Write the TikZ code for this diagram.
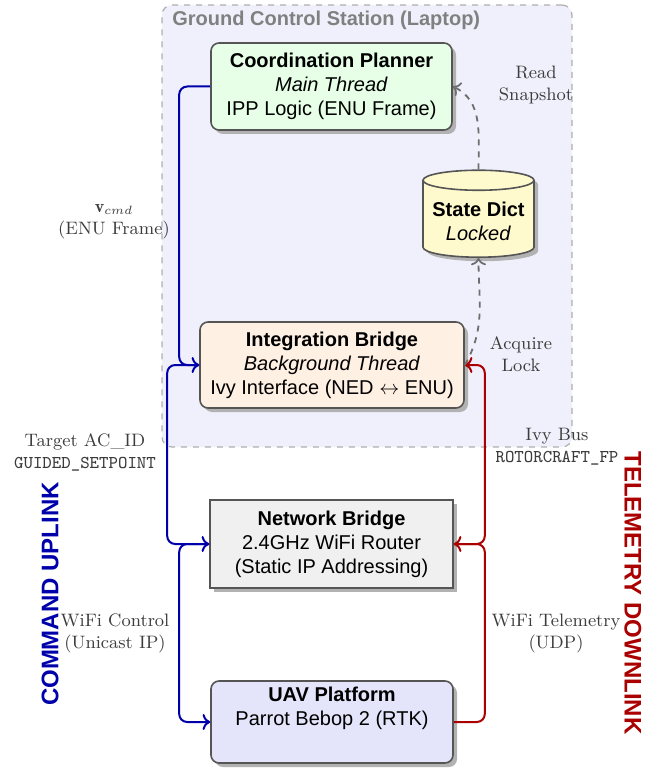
\documentclass[tikz,border=0pt]{standalone}
\usepackage{fontspec}
\setsansfont{Liberation Sans}
\usetikzlibrary{shapes.geometric,shadows,arrows.meta}
\definecolor{gcsfill}{RGB}{240,240,252}
\definecolor{gcsborder}{RGB}{175,175,175}
\definecolor{titlegray}{RGB}{128,128,128}
\definecolor{cpfill}{RGB}{230,255,230}
\definecolor{sdfill}{RGB}{255,250,205}
\definecolor{ibfill}{RGB}{255,240,228}
\definecolor{nbfill}{RGB}{240,240,240}
\definecolor{uavfill}{RGB}{228,228,250}
\definecolor{bordergray}{RGB}{85,85,85}
\definecolor{upblue}{RGB}{0,0,170}
\definecolor{downred}{RGB}{170,0,0}
\definecolor{labelgray}{RGB}{60,60,60}
\definecolor{dashgray}{RGB}{110,110,110}
\begin{document}
\begin{tikzpicture}[x=0.5pt,y=-0.5pt,
  shad/.style={drop shadow={shadow xshift=2pt,shadow yshift=-2pt,fill=black!30,opacity=1}},
  box/.style={draw=bordergray, line width=0.8pt, rounded corners=4pt, align=center,
    font=\sffamily, inner sep=2pt, shad},
  lbl/.style={font=\small, text=labelgray, align=center},
  upline/.style={draw=upblue, line width=1pt, ->, rounded corners=4pt},
  downline/.style={draw=downred, line width=1pt, ->, rounded corners=4pt},
  dashline/.style={draw=dashgray, dashed, line width=0.9pt, ->}]
\useasboundingbox (0,0) rectangle (657,770);

% Ground control station background
\node[draw=gcsborder, dashed, fill=gcsfill, rounded corners=5pt, line width=0.6pt,
  inner sep=0pt, minimum width=205pt, minimum height=221pt] (gcs) at (367,226) {};
\node[anchor=west, font=\sffamily\bfseries, text=titlegray, inner sep=0pt] (title) at (172,20)
  {Ground Control Station (Laptop)};

% Nodes
\node[box, fill=cpfill, minimum width=120.5pt, minimum height=43.5pt] (cp) at (331.5,86.5)
  {\textbf{Coordination Planner}\\\textit{Main Thread}\\IPP Logic (ENU Frame)};
\node[cylinder, shape border rotate=90, aspect=0.2, draw=bordergray, line width=0.8pt,
  fill=sdfill, minimum width=55.5pt, minimum height=43.5pt, font=\sffamily, align=center,
  inner sep=2pt, shad] (sd) at (478.5,221)
  {\textbf{State Dict}\\\textit{Locked}};
\node[box, fill=ibfill, minimum width=132pt, minimum height=43pt] (ib) at (332,365)
  {\textbf{Integration Bridge}\\\textit{Background Thread}\\Ivy Interface (NED $\leftrightarrow$ ENU)};
\node[box, sharp corners, fill=nbfill, minimum width=121.5pt, minimum height=44pt] (nb) at (331.5,544)
  {\textbf{Network Bridge}\\2.4GHz WiFi Router\\(Static IP Addressing)};
\node[box, fill=uavfill, minimum width=121pt, minimum height=41pt] (uav) at (332,722)
  {\textbf{UAV Platform}\\Parrot Bebop 2 (RTK)\\\strut};

% Command uplink (blue)
\draw[upline] (cp.west) -- ++(-31,0) |- (ib.west);
\draw[upline] (ib.west) -- ++(-32,0) |- (nb.west);
\draw[upline] (nb.west) -- ++(-30,0) |- (uav.west);

% Telemetry downlink (red)
\draw[downline] (uav.east) -- ++(31,0) |- (nb.east);
\draw[downline] (nb.east) -- ++(31,0) |- (ib.east);

% State dict access (dashed)
\draw[dashline] (ib.east) to[out=60,in=-90] (sd.south);
\draw[dashline] (sd.north) to[out=90,in=-25] (cp.east);

% Labels
\node[lbl] (lv) at (114,222) {$\mathbf{v}_{cmd}$\\(ENU Frame)};
\node[lbl] (lt) at (85,452) {Target AC\_ID\\\ttfamily GUIDED\_SETPOINT};
\node[lbl] (lw) at (115,633) {WiFi Control\\(Unicast IP)};
\node[lbl] (li) at (557,447) {Ivy Bus\\\ttfamily ROTORCRAFT\_FP};
\node[lbl] (lu) at (556,633) {WiFi Telemetry\\(UDP)};
\node[lbl] (lr) at (536,85) {Read\\Snapshot};
\node[lbl] (la) at (521,354) {Acquire\\Lock};

\node[rotate=90, font=\sffamily\bfseries\large, text=upblue] (cmd) at (50,594) {COMMAND UPLINK};
\node[rotate=-90, font=\sffamily\bfseries\large, text=downred] (tel) at (633,593) {TELEMETRY DOWNLINK};
\end{tikzpicture}
\end{document}
